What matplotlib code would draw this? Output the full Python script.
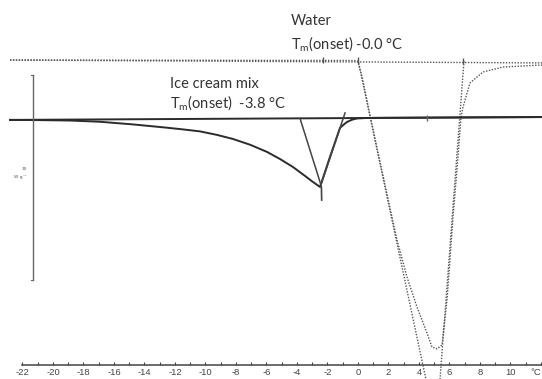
import matplotlib
matplotlib.use("Agg")
import matplotlib.pyplot as plt
from matplotlib.ticker import FixedLocator

# ---- data -------------------------------------------------------------
# Ice cream mix DSC trace (temperature in degC, heat flow in W/g, endo down)
icecream_T = [-22.82, -20.85, -18.89, -16.92, -14.75, -13.77, -12.66, -11.51,
              -10.36, -9.25, -8.20, -7.08, -5.97, -5.11, -4.26, -3.48, -2.95,
              -2.49, -1.84, -1.18, -1.05, -0.72, -0.39, -0.07, 0.46, 1.11,
              12.07]
icecream_hf = [-0.07, -0.08, -0.10, -0.16, -0.29, -0.36, -0.44, -0.53,
               -0.63, -0.80, -1.00, -1.28, -1.63, -1.98, -2.37, -2.80, -3.10,
               -3.34, -1.88, -0.46, -0.37, -0.17, -0.06, 0.00, 0.02, 0.03,
               0.07]
icecream_base_T = [-22.82, 12.07]
icecream_base_hf = [-0.07, 0.07]
icecream_onset = -3.8
icecream_peak_T = -2.43
icecream_peak_hf = -3.24
icecream_trail_T = [-0.85, icecream_peak_T]
icecream_trail_hf = [0.27, icecream_peak_hf]
icecream_mark_T = [-2.40, -2.38]
icecream_mark_hf = [-3.34, -3.98]
icecream_limit_T = [4.52]
icecream_limit_hf = [0.04]

# Pure water DSC trace
water_T = [-22.82, -0.59, -0.20, 0.0, 0.26, 0.46, 0.66, 0.92, 1.25, 1.57,
           2.30, 2.56, 3.21, 3.87, 4.52, 4.85, 5.18, 5.51, 5.84, 6.03, 6.23,
           6.49, 6.75, 6.89, 7.34, 8.20, 9.51, 12.07]
water_hf = [2.85, 2.83, 2.82, 2.76, 2.05, 1.35, 0.62, -0.30, -1.45, -2.55,
            -5.05, -5.93, -7.73, -9.20, -10.46, -11.15, -11.24, -11.05, -8.83,
            -6.90, -4.80, -2.51, 0.02, 0.56, 1.73, 2.27, 2.51, 2.61]
water_base_T = [-22.82, 12.07]
water_base_hf = [2.85, 2.71]
water_onset = 0.0
water_lead_T = [water_onset, 4.45]
water_lead_hf = [2.85, -12.71]
water_trail_T = [6.95, 5.38]
water_trail_hf = [2.80, -12.71]
water_marks_T = [-2.30, 0.0, 6.90]
water_marks_hf = [2.84, 2.83, 2.79]

# Scale bar (10 W/g)
scale_T = -21.31
scale_top = 2.12
scale_len = 10.0

# Temperature axis
tick_values = list(range(-22, 13, 2))
tick_labels = [str(v) for v in range(-22, 11, 2)] + [""]
minor_values = list(range(-21, 12, 2))
axis_level = -12.02
axis_unit = "\u00b0C"

# ---- figure -----------------------------------------------------------
fig = plt.figure(figsize=(5.42, 3.79), dpi=100)
ax = fig.add_axes([0, 0, 1, 1])
ax.set_xlim(-23.475, 12.066)
ax.set_ylim(-12.71, 5.78)

dark = "#2b2b2b"
grey = "#555555"
dot = (0, (1.0, 1.1))

# water (dotted)
ax.plot(water_base_T, water_base_hf, color=grey, lw=1.0, ls=dot)
ax.plot(water_T, water_hf, color=grey, lw=1.0, ls=dot)
ax.plot(water_lead_T, water_lead_hf, color=grey, lw=1.0, ls=dot)
ax.plot(water_trail_T, water_trail_hf, color=grey, lw=1.0, ls=dot)
ax.plot(water_marks_T, water_marks_hf, ls="none", marker="|", ms=5,
        mew=1.0, color=grey)

# ice cream mix (solid)
ax.plot(icecream_base_T, icecream_base_hf, color=dark, lw=1.4)
ax.plot(icecream_T, icecream_hf, color=dark, lw=1.4)
ax.plot([icecream_onset, icecream_peak_T], [0.0, icecream_peak_hf],
        color="#444444", lw=1.1)
ax.plot(icecream_trail_T, icecream_trail_hf, color="#444444", lw=1.1)
ax.plot(icecream_mark_T, icecream_mark_hf, color="#444444", lw=1.2)
ax.plot(icecream_limit_T, icecream_limit_hf, ls="none", marker="|", ms=5,
        mew=1.0, color="#666666")

# scale bar
ax.plot([scale_T, scale_T], [scale_top, scale_top - scale_len],
        color="#666666", lw=1.0)
ax.plot([scale_T - 0.15, scale_T], [scale_top, scale_top],
        color="#666666", lw=0.8)
ax.plot([scale_T - 0.15, scale_T], [scale_top - scale_len] * 2,
        color="#666666", lw=0.8)
ax.text(scale_T - 0.40, -2.45, "10", fontsize=3.2, color="#555555",
        ha="right", va="center")
ax.text(scale_T - 0.40, -2.85, "W g\u207b\u00b9", fontsize=3.2,
        color="#555555", ha="right", va="center")

# temperature axis
for side in ("top", "left", "right"):
    ax.spines[side].set_visible(False)
ax.spines["bottom"].set_position(("data", axis_level))
ax.spines["bottom"].set_bounds(-22.05, 12.066)
ax.spines["bottom"].set_color("#444444")
ax.spines["bottom"].set_linewidth(1.1)
ax.set_yticks([])
ax.xaxis.set_major_locator(FixedLocator(tick_values))
ax.xaxis.set_minor_locator(FixedLocator(minor_values))
ax.set_xticklabels(tick_labels)
ax.tick_params(axis="x", which="both", direction="in", color="#444444",
               width=0.8, labelsize=6.8, labelcolor="#444444", pad=2.5)
ax.tick_params(axis="x", which="major", length=2.5)
ax.tick_params(axis="x", which="minor", length=2)
for lab in ax.get_xticklabels():
    lab.set_family("Liberation Sans")
ax.text(12.00, -12.40, axis_unit, ha="right", va="center", fontsize=6.8,
        color="#444444", family="Liberation Sans")

# annotations
tfont = dict(family="Lato", fontsize=10.5, color="#333333")
ax.text(-4.40, 4.75, "Water", ha="left", va="center", **tfont)
ax.text(-4.40, 3.60, "T$_{\\mathregular{m}}$(onset) -0.0 \u00b0C",
        ha="left", va="center", **tfont)
ax.text(-12.30, 1.67, "Ice cream mix", ha="left", va="center", **tfont)
ax.text(-12.30, 0.75, "T$_{\\mathregular{m}}$(onset)  -3.8 \u00b0C",
        ha="left", va="center", **tfont)

fig.savefig("out.png", dpi=100, facecolor="white")
